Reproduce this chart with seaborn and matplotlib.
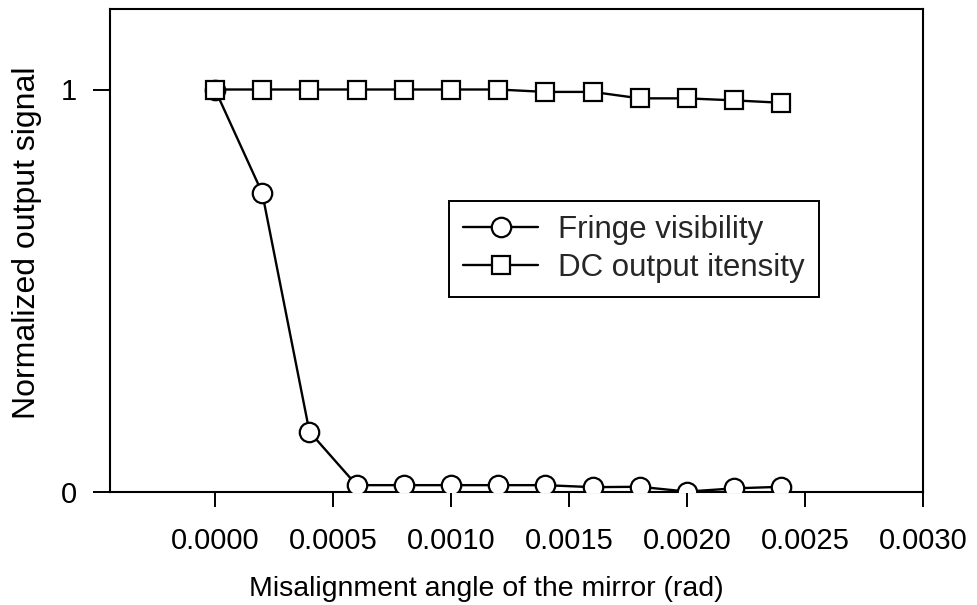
import matplotlib
matplotlib.use("Agg")
import matplotlib.pyplot as plt
import seaborn as sns
import pandas as pd

angle = [0.0000, 0.0002, 0.0004, 0.0006, 0.0008, 0.0010, 0.0012,
         0.0014, 0.0016, 0.0018, 0.0020, 0.0022, 0.0024]
fringe_visibility = [1.0, 0.743, 0.150, 0.017, 0.017, 0.017, 0.017,
                     0.017, 0.012, 0.013, 0.001, 0.009, 0.013]
dc_intensity = [1.0, 1.0, 1.0, 1.0, 1.0, 1.0, 1.0,
                0.994, 0.994, 0.978, 0.978, 0.973, 0.967]
x_ticks = [0.0000, 0.0005, 0.0010, 0.0015, 0.0020, 0.0025, 0.0030]
x_tick_labels = ["0.0000", "0.0005", "0.0010", "0.0015", "0.0020", "0.0025", "0.0030"]
y_ticks = [0, 1]
y_tick_labels = ["0", "1"]

sns.set_theme(style="white")
plt.rcParams["font.family"] = ["Liberation Sans", "DejaVu Sans"]

df_f = pd.DataFrame({"angle": angle, "value": fringe_visibility})
df_d = pd.DataFrame({"angle": angle, "value": dc_intensity})

fig = plt.figure(figsize=(9.78, 6.05), dpi=100)
ax = fig.add_axes([110/978, 1-492/605, (923-110)/978, (492-9)/605])

sns.lineplot(data=df_f, x="angle", y="value", ax=ax, color="black", lw=1.7,
             marker="o", markersize=14, markerfacecolor="white",
             markeredgecolor="black", markeredgewidth=1.6,
             label="Fringe visibility", zorder=3)
sns.lineplot(data=df_d, x="angle", y="value", ax=ax, color="black", lw=1.7,
             marker="s", markersize=13, markerfacecolor="white",
             markeredgecolor="black", markeredgewidth=1.6,
             label="DC output itensity", zorder=3)

ax.set_xlim(-0.000445, 0.0030)
ax.set_ylim(0, 1.2)
ax.set_xticks(x_ticks)
ax.set_xticklabels(x_tick_labels)
ax.set_yticks(y_ticks)
ax.set_yticklabels(y_tick_labels)
ax.tick_params(axis="x", direction="out", length=11, width=1.4, pad=14,
               labelsize=21, colors="black", bottom=True)
ax.tick_params(axis="y", direction="out", length=12, width=1.4, pad=12,
               labelsize=21, colors="black", left=True)
for s in ax.spines.values():
    s.set_color("black")
    s.set_linewidth(1.5)

ax.set_xlabel("Misalignment angle of the mirror (rad)", fontsize=20.5, color="black")
ax.xaxis.label.set_verticalalignment("center")
ax.xaxis.set_label_coords((486-110)/(923-110), -(589-492)/(492-9))
ax.set_ylabel("Normalized output signal", fontsize=23, color="black")
ax.yaxis.label.set_verticalalignment("center")
ax.yaxis.set_label_coords(-(110-27)/(923-110), (492-243)/(492-9))

leg = ax.legend(loc="upper left", bbox_to_anchor=(449/978, 1-201/605),
                bbox_transform=fig.transFigure, borderaxespad=0,
                fontsize=22.5, frameon=True, fancybox=False, framealpha=1,
                edgecolor="black", handlelength=2.4, handletextpad=0.65,
                borderpad=0.45, labelspacing=0.25)
leg.get_frame().set_linewidth(1.4)

fig.savefig("out.png", dpi=100)
